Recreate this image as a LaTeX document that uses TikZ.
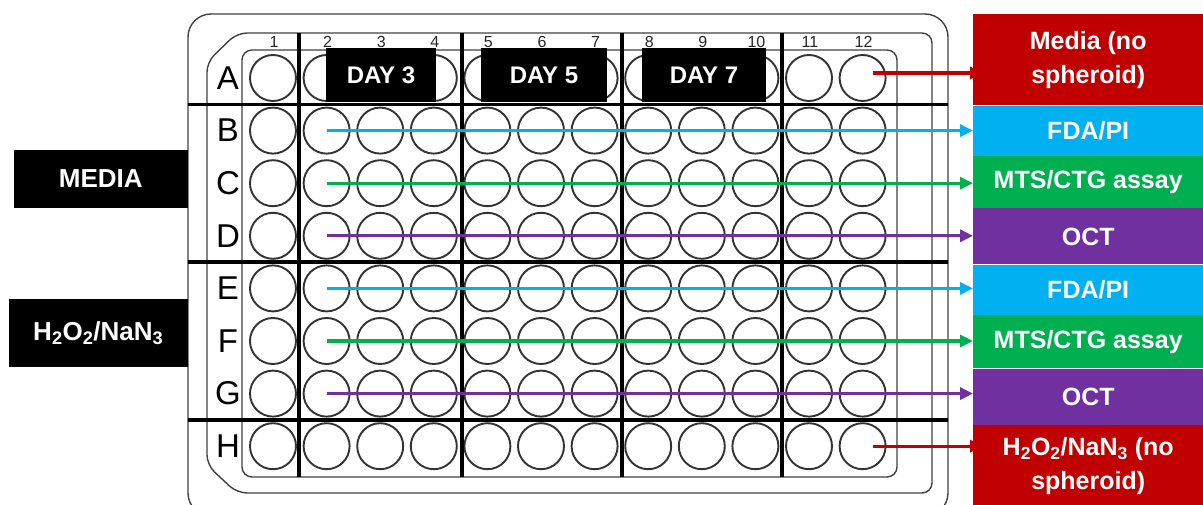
\documentclass[tikz,border=0pt]{standalone}
\usepackage{fontspec}
\setmainfont{Liberation Sans}
\usetikzlibrary{arrows.meta,positioning,calc}

\definecolor{plred}{HTML}{C00000}
\definecolor{plblue}{HTML}{00B0F0}
\definecolor{plgreen}{HTML}{00B050}
\definecolor{plpurple}{HTML}{7030A0}

\begin{document}
\begin{tikzpicture}[
  x=1pt, y=-1pt,
  well/.style={circle, draw=black!80, line width=1.9pt, minimum size=46pt, inner sep=0pt},
  rim/.style={draw=black!75, line width=1.4pt},
  divider/.style={black, line width=3.4pt},
  rowlab/.style={font=\fontsize{33}{33}\selectfont, inner sep=0pt},
  collab/.style={font=\fontsize{16}{16}\selectfont, text=black!85, inner sep=0pt},
  daybox/.style={rectangle, fill=black, text=white, minimum height=54pt, inner sep=0pt,
                 font=\fontsize{24}{24}\selectfont\bfseries},
  sidebox/.style={rectangle, fill=black, text=white, inner sep=0pt, anchor=east,
                  font=\fontsize{26}{26}\selectfont\bfseries},
  rbox/.style={rectangle, text=white, minimum width=230pt, inner sep=0pt, align=center,
               font=\fontsize{25}{34}\selectfont\bfseries},
  ar/.style={-{Triangle[length=13pt, width=12pt]}, line width=3.2pt}
]
\useasboundingbox (0,0) rectangle (1203,505);
\clip (0,0) rectangle (1203,505);

% plate outline
\draw[rim, rounded corners=23pt] (188,14) rectangle (948,516);
\draw[rim, rounded corners=10pt] (237,33) -- (932,33) -- (932,493) -- (237,493)
  -- (207,465) -- (207,62) -- cycle;
\draw[rim, rounded corners=10pt] (242,50) rectangle (897,477);

% wells
\foreach \r [count=\i] in {A,...,H} {
  \node[rowlab] (row\r) at (228,{78+(\i-1)*52.6}) {\r};
  \foreach \c in {1,...,12}
    \node[well] (w\r\c) at ({273+(\c-1)*53.6},{78+(\i-1)*52.6}) {};
}
\foreach \c in {1,...,12}
  \node[collab] (col\c) at ({274+(\c-1)*53.6},42) {\c};

% thick dividers
\foreach \x in {299,462,622,782}
  \draw[divider] (\x,33) -- (\x,477);
\foreach \y in {104.5,262,420}
  \draw[divider] (188,\y) -- (948,\y);

\node[daybox, minimum width=110pt] (day3) at (381,75) {DAY 3};
\node[daybox, minimum width=126pt] (day5) at (544,75) {DAY 5};
\node[daybox, minimum width=124pt] (day7) at (704,75) {DAY 7};

\node[sidebox, minimum width=174pt, minimum height=58pt] (media) at (188,179) {MEDIA};
\node[sidebox, minimum width=179pt, minimum height=68pt] (peroxide) at (188,333)
  {H\textsubscript{2}O\textsubscript{2}/NaN\textsubscript{3}};

% readouts
\node[rbox, fill=plred, minimum height=91pt, anchor=north west] (nospA) at (973,14)
  {Media (no\\spheroid)};
\node[rbox, fill=plblue, minimum height=50pt, below=0pt of nospA] (fdaB) {FDA/PI};
\node[rbox, fill=plgreen, minimum height=52pt, below=0pt of fdaB] (mtsC) {MTS/CTG assay};
\node[rbox, fill=plpurple, minimum height=56pt, below=0pt of mtsC] (octD) {OCT};
\node[rbox, fill=plblue, minimum height=50pt, below=0pt of octD] (fdaE) {FDA/PI};
\node[rbox, fill=plgreen, minimum height=53pt, below=0pt of fdaE] (mtsF) {MTS/CTG assay};
\node[rbox, fill=plpurple, minimum height=56pt, below=0pt of mtsF] (octG) {OCT};
\node[rbox, fill=plred, minimum height=83pt, below=0pt of octG] (nospH)
  {H\textsubscript{2}O\textsubscript{2}/NaN\textsubscript{3} (no\\spheroid)};

\draw[ar, plred] ([shift={(10,-5)}]wA12.center) -- ([shift={(10,-5)}]wA12.center -| nospA.west);
\draw[ar, plblue] (wB2.center) -- (wB2.center -| fdaB.west);
\draw[ar, plgreen] (wC2.center) -- (wC2.center -| mtsC.west);
\draw[ar, plpurple] (wD2.center) -- (wD2.center -| octD.west);
\draw[ar, plblue] (wE2.center) -- (wE2.center -| fdaE.west);
\draw[ar, plgreen] (wF2.center) -- (wF2.center -| mtsF.west);
\draw[ar, plpurple] (wG2.center) -- (wG2.center -| octG.west);
\draw[ar, plred] ([xshift=10pt]wH12.center) -- ([xshift=10pt]wH12.center -| nospH.west);
\end{tikzpicture}
\end{document}
